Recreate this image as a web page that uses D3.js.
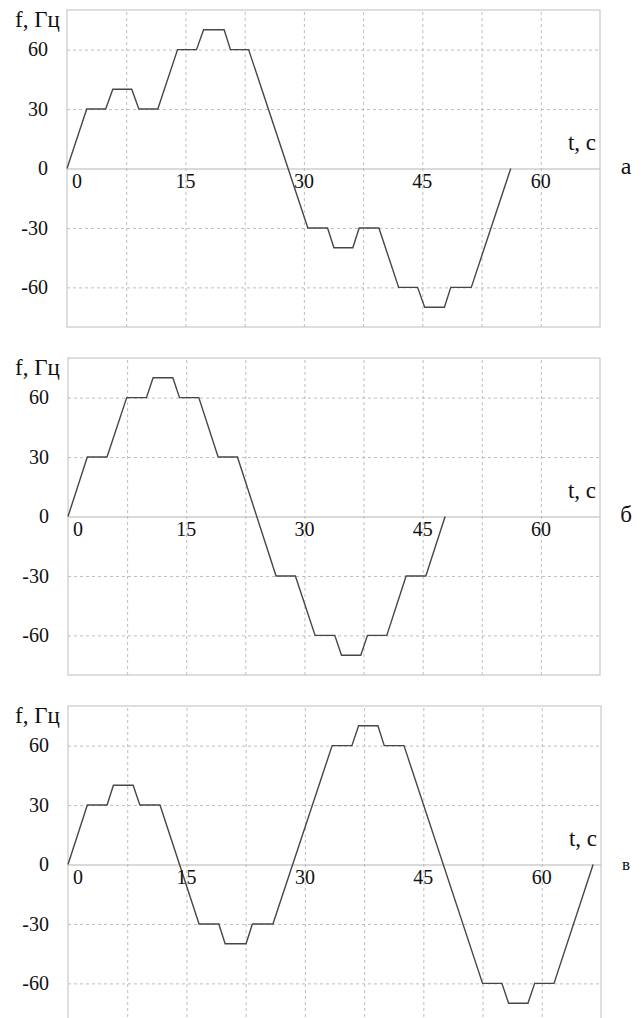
<!DOCTYPE html>
<html>
<head>
<meta charset="utf-8">
<script src="https://cdn.jsdelivr.net/npm/d3@7"></script>
</head>
<body style="margin:0;padding:0;background:#fff">
<svg id="chart" width="642" height="1018" style="display:block"></svg>
<script>
// ---- data ----
const tA = [0, 2.5, 4.9, 5.8, 8.2, 9.1, 11.5, 14.0, 16.4, 17.3, 19.9, 20.7, 23.0, 30.5, 33.0, 33.8, 36.2, 37.0, 39.5, 42.0, 44.4, 45.3, 47.8, 48.6, 51.2, 56.2];
const fA = [0, 30, 30, 40, 40, 30, 30, 60, 60, 70, 70, 60, 60, -30, -30, -40, -40, -30, -30, -60, -60, -70, -70, -60, -60, 0];

const tB = [0, 2.45, 4.95, 7.45, 9.95, 10.8, 13.3, 14.15, 16.6, 19.05, 21.5, 26.4, 28.85, 31.35, 33.85, 34.7, 37.15, 38.0, 40.45, 42.9, 45.4, 47.85];
const fB = [0, 30, 30, 60, 60, 70, 70, 60, 60, 30, 30, -30, -30, -60, -60, -70, -70, -60, -60, -30, -30, 0];

const tV = [0, 2.45, 4.95, 5.75, 8.25, 9.1, 11.65, 16.6, 19.1, 19.9, 22.55, 23.35, 25.95, 33.45, 35.95, 36.8, 39.25, 40.05, 42.55, 52.5, 54.95, 55.8, 58.25, 59.1, 61.55, 66.5];
const fV = [0, 30, 30, 40, 40, 30, 30, -30, -30, -40, -40, -30, -30, 60, 60, 70, 70, 60, 60, -60, -60, -70, -70, -60, -60, 0];

const xGridTicks = [7.5, 15, 22.5, 30, 37.5, 45, 52.5, 60];
const xLabelTicks = [0, 15, 30, 45, 60];
const yTicks = [-60, -30, 0, 30, 60];
const panelLetters = ["а", "б", "в"];
const yTitle = "f, Гц";
const xTitle = "t, с";

// ---- layout ----
const FONT = "Liberation Serif";
const panels = [
  { t: tA, f: fA, left: 67, right: 600, top: 10 },
  { t: tB, f: fB, left: 68, right: 600, top: 358 },
  { t: tV, f: fV, left: 68, right: 601, top: 706 }
];
const panelH = 317;
const letterSizes = [24, 23, 17];
const fmt = d => String(d);

function serif(sel, size) {
  sel.each(function () {
    this.style.setProperty("font-family", FONT, "important");
    this.style.setProperty("font-size", size + "px", "important");
    this.style.setProperty("fill", "#111", "important");
  });
  return sel;
}

const svg = d3.select("#chart");
const gridLayer = svg.append("g");
const lineLayer = svg.append("g");

panels.forEach((p, i) => {
  const x = d3.scaleLinear().domain([0, 67.5]).range([p.left, p.right]);
  const y = d3.scaleLinear().domain([-80, 80]).range([p.top + panelH, p.top]);

  // vertical grid
  gridLayer.append("g")
    .attr("transform", `translate(0,${p.top + panelH})`)
    .call(d3.axisBottom(x).tickValues(xGridTicks).tickSize(-panelH).tickFormat(""))
    .call(s => s.select(".domain").remove())
    .call(s => s.selectAll(".tick line")
      .attr("stroke", "#bdbdbd").attr("stroke-width", 1).attr("stroke-dasharray", "3,3"));

  // horizontal grid (axis, labels removed and redrawn below)
  gridLayer.append("g")
    .attr("transform", `translate(${p.left},0)`)
    .call(d3.axisLeft(y).tickValues(yTicks).tickSize(-(p.right - p.left)).tickFormat(""))
    .call(s => s.select(".domain").remove())
    .call(s => s.selectAll(".tick line")
      .attr("stroke", d => d === 0 ? "#b5b5b5" : "#bdbdbd")
      .attr("stroke-width", 1)
      .attr("stroke-dasharray", d => d === 0 ? null : "3,3"))
    .call(s => s.selectAll(".tick text").remove());

  // border
  gridLayer.append("rect")
    .attr("x", p.left).attr("y", p.top)
    .attr("width", p.right - p.left).attr("height", panelH)
    .attr("fill", "none").attr("stroke", "#c8c8c8").attr("stroke-width", 1.2);

  // y tick labels
  serif(svg.selectAll(null).data(yTicks).join("text")
    .attr("x", p.left - 19)
    .attr("y", d => y(d))
    .attr("dy", "0.34em")
    .attr("text-anchor", "end")
    .text(fmt), 20);

  // x tick labels
  serif(svg.selectAll(null).data(xLabelTicks).join("text")
    .attr("x", d => x(d) + (d === 0 ? 10 : 0))
    .attr("y", y(0) + 5)
    .attr("dy", "0.71em")
    .attr("text-anchor", "middle")
    .text(fmt), 20);

  // data line
  const pts = p.t.map((t, k) => [t, p.f[k]]);
  lineLayer.append("path")
    .datum(pts)
    .attr("fill", "none")
    .attr("stroke", "#4a4545")
    .attr("stroke-width", 1.4)
    .attr("d", d3.line().x(d => x(d[0])).y(d => y(d[1])));

  // titles
  serif(svg.append("text")
    .attr("x", 15).attr("y", p.top + 17)
    .text(yTitle), 23);
  serif(svg.append("text")
    .attr("x", p.right - 4).attr("y", y(0) - 19)
    .attr("text-anchor", "end")
    .text(xTitle), 23);
  serif(svg.append("text")
    .attr("x", 626).attr("y", y(0) + 5)
    .attr("text-anchor", "middle")
    .text(panelLetters[i]), letterSizes[i]);
});
</script>
</body>
</html>
